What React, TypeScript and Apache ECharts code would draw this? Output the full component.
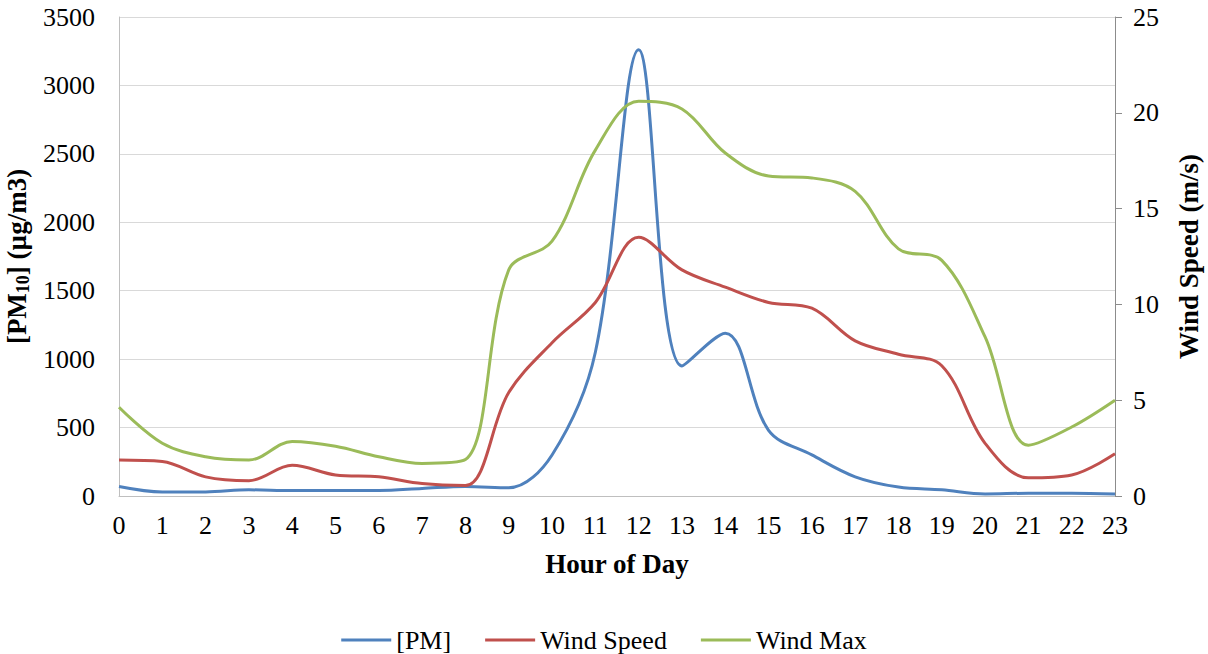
import React, { useEffect, useRef } from "react";
import * as echarts from "echarts";

const hours = ["0","1","2","3","4","5","6","7","8","9","10","11","12","13","14","15","16","17","18","19","20","21","22","23"];
const pm = [70, 30, 30, 45, 40, 40, 40, 55, 70, 60, 300, 1050, 3260, 950, 1190, 480, 300, 140, 65, 45, 15, 20, 20, 15];
const windSpeed = [1.88, 1.8, 1.0, 0.8, 1.6, 1.1, 1.0, 0.65, 0.55, 5.4, 8.0, 10.1, 13.5, 11.8, 10.9, 10.1, 9.8, 8.1, 7.4, 6.8, 2.75, 0.95, 1.1, 2.2];
const windMax = [4.63, 2.75, 2.05, 1.88, 2.85, 2.6, 2.05, 1.7, 1.9, 11.8, 13.3, 18.05, 20.6, 20.2, 17.9, 16.7, 16.6, 15.9, 12.9, 12.3, 8.3, 2.65, 3.6, 5.0];
const seriesNames = ["[PM]", "Wind Speed", "Wind Max"];
const colors = ["#4F81BD", "#C0504D", "#9BBB59"];

const FONT = "Liberation Serif, Times New Roman, serif";

export default function App() {
  const ref = useRef<HTMLDivElement>(null);
  useEffect(() => {
    if (!ref.current) return;
    const chart = echarts.init(ref.current, null, { renderer: "svg" });
    const lineSeries = (name: string, data: number[], color: string, yAxisIndex: number) => ({
      name,
      type: "line",
      data,
      yAxisIndex,
      smooth: 0.35,
      symbol: "none",
      lineStyle: { color, width: 3 },
      itemStyle: { color },
    });
    const tickLabel = { fontFamily: FONT, fontSize: 26, color: "#000" };
    chart.setOption({
      animation: false,
      textStyle: { fontFamily: FONT },
      grid: { left: 119, right: 93, top: 17, bottom: 158, containLabel: false, outerBoundsMode: "none" },
      legend: {
        top: 622,
        left: "center",
        itemWidth: 50,
        itemHeight: 3,
        itemGap: 34,
        icon: "rect",
        textStyle: { fontFamily: FONT, fontSize: 26, color: "#000" },
        data: seriesNames,
      },
      xAxis: {
        type: "category",
        data: hours,
        boundaryGap: false,
        name: "Hour of Day",
        nameLocation: "middle",
        nameGap: 54,
        nameTextStyle: { fontFamily: FONT, fontSize: 27, fontWeight: "bold", color: "#000" },
        axisLine: { lineStyle: { color: "#bfbfbf", width: 1 } },
        axisTick: { show: false },
        axisLabel: { ...tickLabel, margin: 16 },
        splitLine: { show: false },
      },
      yAxis: [
        {
          type: "value",
          min: 0,
          max: 3500,
          interval: 500,
          name: "[PM{sub|10}] (µg/m3)",
          nameLocation: "middle",
          nameRotate: 90,
          nameGap: 80,
          nameTextStyle: {
            fontFamily: FONT,
            fontSize: 27,
            fontWeight: "bold",
            color: "#000",
            rich: {
              sub: { fontFamily: FONT, fontSize: 18, fontWeight: "bold", color: "#000", verticalAlign: "bottom", padding: [12, 0, 0, 0] },
            },
          },
          axisLine: { show: true, lineStyle: { color: "#bfbfbf", width: 1 } },
          axisTick: { show: false },
          axisLabel: { ...tickLabel, margin: 24, formatter: (v: number) => String(v) },
          splitLine: { show: true, lineStyle: { color: "#d9d9d9", width: 1 } },
        },
        {
          type: "value",
          min: 0,
          max: 25,
          interval: 5,
          position: "right",
          name: "Wind Speed (m/s)",
          nameLocation: "middle",
          nameRotate: 90,
          nameGap: 60,
          nameTextStyle: { fontFamily: FONT, fontSize: 27, fontWeight: "bold", color: "#000" },
          axisLine: { show: true, lineStyle: { color: "#8c8c8c", width: 1 } },
          axisTick: { show: true, length: 7, inside: false, lineStyle: { color: "#8c8c8c" } },
          axisLabel: { ...tickLabel, margin: 18, formatter: (v: number) => String(v) },
          splitLine: { show: false },
        },
      ],
      series: [
        lineSeries(seriesNames[0], pm, colors[0], 0),
        lineSeries(seriesNames[1], windSpeed, colors[1], 1),
        lineSeries(seriesNames[2], windMax, colors[2], 1),
      ],
    });
    return () => chart.dispose();
  }, []);
  return <div ref={ref} style={{ width: 1208, height: 654, position: "absolute", left: 0, top: 0 }} />;
}
